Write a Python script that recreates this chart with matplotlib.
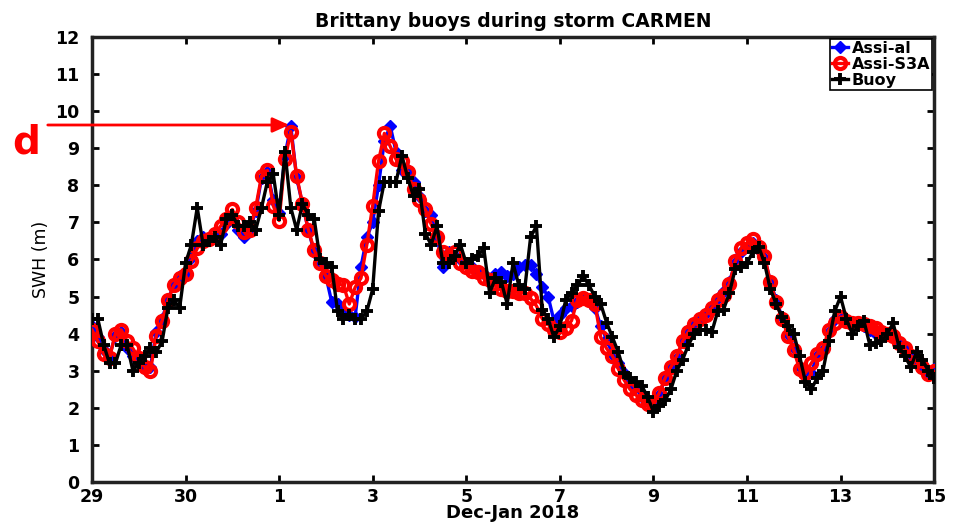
import matplotlib
matplotlib.use("Agg")
import matplotlib.pyplot as plt
import numpy as np

# 3-hourly samples, 29 Dec -> 15 Jan (tick every 16 samples)
tick_labels = ["29", "30", "1", "3", "5", "7", "9", "11", "13", "15"]

buoy = [
    4.4, 4.4, 3.7, 3.2, 3.2, 3.7, 3.7, 3.0, 3.2, 3.4, 3.6, 3.5, 3.8, 4.7, 4.9, 4.7,
    5.9, 6.4, 7.4, 6.4, 6.5, 6.6, 6.4, 7.1, 7.2, 6.9, 6.9, 7.0, 6.8, 7.4, 8.1, 8.3,
    7.2, 8.9, 7.4, 6.8, 7.5, 7.2, 7.1, 6.0, 5.9, 5.8, 4.6, 4.4, 4.5, 4.4, 4.4, 4.6,
    5.2, 7.3, 8.1, 8.1, 8.1, 8.8, 8.2, 7.7, 7.9, 6.7, 6.4, 6.9, 5.9, 5.9, 6.1, 6.4,
    5.9, 6.0, 6.1, 6.3, 5.1, 5.5, 5.4, 4.8, 5.9, 5.3, 5.2, 6.6, 6.9, 4.65, 4.4, 3.9,
    4.2, 4.9, 5.1, 5.3, 5.55, 5.3, 5.0, 4.8, 4.3, 3.9, 3.5, 2.95, 2.8, 2.7, 2.6, 2.3,
    1.9, 2.05, 2.2, 2.5, 3.0, 3.3, 3.7, 4.0, 4.1, 4.1, 4.05, 4.6, 4.65, 5.1, 5.75, 5.8,
    5.9, 6.2, 6.35, 5.9, 5.2, 4.8, 4.45, 4.2, 4.0, 3.4, 2.7, 2.5, 2.8, 3.0, 3.8, 4.6,
    5.0, 4.4, 4.0, 4.2, 4.35, 3.7, 3.75, 3.8, 4.0, 4.28, 3.65, 3.4, 3.1, 3.5, 3.3, 3.0,
    2.8,
]

assi_all = [
    4.2, 3.9, 3.55, 3.4, 3.95, 4.05, 3.6, 3.4, 3.2, 3.05, 3.1, 4.05, 4.4, 4.9, 5.35, 5.55,
    5.6, 6.05, 6.5, 6.6, 6.55, 6.6, 6.7, 6.95, 7.1, 6.8, 6.6, 6.8, 7.3, 8.2, 8.35, 7.6,
    7.25, 8.8, 9.6, 8.2, 7.5, 6.8, 6.2, 5.9, 5.55, 4.85, 4.8, 4.6, 4.5, 4.45, 5.8, 6.6,
    7.0, 8.0, 9.2, 9.6, 8.9, 8.4, 8.4, 8.1, 7.7, 7.3, 7.2, 6.6, 5.8, 6.2, 6.1, 6.0,
    5.9, 5.8, 5.7, 5.6, 5.45, 5.6, 5.65, 5.55, 5.6, 5.8, 5.85, 5.85, 5.6, 5.25, 5.0, 4.35,
    4.5, 4.7, 4.75, 4.85, 4.95, 4.9, 4.7, 4.2, 3.85, 3.45, 3.2, 2.95, 2.7, 2.55, 2.3, 2.15,
    2.05, 2.35, 2.8, 3.1, 3.35, 3.8, 4.1, 4.25, 4.4, 4.55, 4.75, 4.95, 5.15, 5.4, 5.9, 6.2,
    6.35, 6.45, 6.25, 6.05, 5.4, 4.9, 4.45, 4.0, 3.6, 3.1, 3.0, 2.95, 3.4, 3.55, 4.05, 4.4,
    4.4, 4.35, 4.3, 4.25, 4.2, 4.1, 4.0, 3.95, 4.0, 3.95, 3.75, 3.6, 3.4, 3.2, 3.05, 2.9,
    3.05,
]

assi_s3a = [
    4.1, 3.8, 3.45, 3.35, 4.0, 4.1, 3.8, 3.6, 3.35, 3.1, 3.0, 3.95, 4.35, 4.9, 5.3, 5.5,
    5.6, 5.95, 6.3, 6.5, 6.55, 6.7, 6.9, 7.1, 7.35, 7.0, 6.75, 6.8, 7.4, 8.25, 8.4, 7.45,
    7.05, 8.7, 9.45, 8.25, 7.5, 6.8, 6.25, 5.9, 5.55, 5.45, 5.35, 5.3, 4.8, 5.25, 5.5, 6.4,
    7.45, 8.65, 9.4, 9.05, 8.7, 8.65, 8.35, 7.9, 7.6, 7.35, 6.95, 6.6, 6.2, 6.1, 6.2, 5.9,
    5.8, 5.7, 5.65, 5.5, 5.45, 5.35, 5.2, 5.15, 5.15, 5.1, 5.1, 4.95, 4.75, 4.4, 4.25, 4.1,
    4.05, 4.15, 4.35, 4.9, 4.95, 4.9, 4.8, 3.9, 3.6, 3.4, 3.05, 2.75, 2.5, 2.35, 2.2, 2.1,
    2.1, 2.4, 2.8, 3.1, 3.4, 3.8, 4.05, 4.25, 4.4, 4.5, 4.7, 4.9, 5.05, 5.35, 5.95, 6.3,
    6.45, 6.55, 6.35, 6.1, 5.4, 4.85, 4.4, 3.95, 3.55, 3.05, 2.95, 3.2, 3.45, 3.6, 4.1, 4.3,
    4.45, 4.35, 4.3, 4.28, 4.25, 4.2, 4.15, 4.05, 4.0, 3.95, 3.75, 3.6, 3.4, 3.25, 3.1, 2.9,
    3.0,
]

t = np.arange(len(buoy))  # sample index (3 h steps)

plt.rcParams["font.family"] = ["DejaVu Sans"]

fig = plt.figure(figsize=(9.61, 5.27), dpi=100)
ax = fig.add_axes([0.0957, 0.0854, 0.8763, 0.8444])

ax.plot(t, assi_all, color="blue", lw=2.4, marker="D", ms=6.5,
        mfc="blue", mec="blue", label="Assi-al", zorder=3)
ax.plot(t, assi_s3a, color="red", lw=2.4, marker="o", ms=8,
        mfc="none", mec="red", mew=3, label="Assi-S3A", zorder=4)
ax.plot(t, buoy, color="black", lw=2.4, marker="+", ms=9,
        mew=2.8, label="Buoy", zorder=5)

ax.set_xlim(0, 144)
ax.set_ylim(0, 12)
ax.set_xticks(np.arange(0, 145, 16))
ax.set_xticklabels(tick_labels)
ax.set_yticks(np.arange(0, 13, 1))

ax.tick_params(direction="in", length=5, width=2, top=True, right=True,
               labelsize=12.5)
ax.tick_params(axis="x", pad=4)
ax.tick_params(axis="y", pad=9)
for lab in ax.get_xticklabels() + ax.get_yticklabels():
    lab.set_fontweight("bold")
for sp in ax.spines.values():
    sp.set_linewidth(2.5)
    sp.set_color("#222222")

ax.set_title("Brittany buoys during storm CARMEN", fontsize=13.5,
             fontweight="bold", pad=7)
ax.set_xlabel("Dec-Jan 2018", fontsize=13, fontweight="bold", labelpad=-1)
ax.set_ylabel("SWH (m)", fontsize=12.5, labelpad=4)

leg = ax.legend(loc="upper right", prop={"weight": "bold", "size": 11.5},
                handlelength=1.0, handletextpad=0.2, borderpad=0.15,
                labelspacing=0.05, borderaxespad=0.1, fancybox=False,
                framealpha=1)
leg.get_frame().set_edgecolor("black")
leg.get_frame().set_linewidth(1.2)

# red annotation outside the axes
fig.text(12 / 961, 1 - 143 / 527, "d", color="red", fontsize=28,
         fontweight="bold", ha="left", va="center")
ax.annotate("", xy=(292 / 961, 1 - 125 / 527), xycoords="figure fraction",
            xytext=(45 / 961, 1 - 125 / 527), textcoords="figure fraction",
            arrowprops=dict(arrowstyle="-|>,head_length=1.0,head_width=0.45",
                            color="red", lw=2),
            annotation_clip=False)

fig.savefig("out.png", dpi=100)
